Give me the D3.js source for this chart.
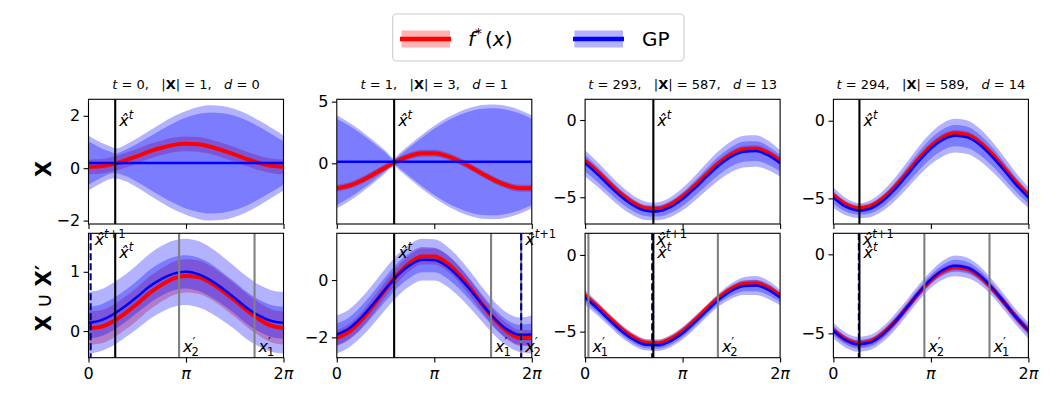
<!DOCTYPE html>
<html>
<head>
<meta charset="utf-8">
<script src="https://cdn.jsdelivr.net/npm/d3@7"></script>
<style>
  body { margin: 0; background: #fff; }
  svg { font-family: "DejaVu Sans", sans-serif; }
</style>
</head>
<body>
<svg id="chart" width="1062" height="397"></svg>
<script>
// x positions of the samples, in multiples of pi
var xGrid = [0, 0.125, 0.25, 0.375, 0.5, 0.625, 0.75, 0.875, 1, 1.125, 1.25, 1.375, 1.5, 1.625, 1.75, 1.875, 2];

// true function f*(x), one row per column of panels
var fTrue = [
  [0.05, 0.07, 0.16, 0.30, 0.46, 0.64, 0.78, 0.89, 0.93, 0.91, 0.82, 0.68, 0.52, 0.35, 0.20, 0.09, 0.05],
  [-2.02, -1.81, -1.41, -0.89, -0.32, 0.20, 0.60, 0.82, 0.82, 0.61, 0.21, -0.31, -0.88, -1.40, -1.80, -2.02, -2.02],
  [-2.64, -3.34, -4.11, -4.83, -5.39, -5.72, -5.75, -5.48, -4.96, -4.26, -3.49, -2.77, -2.21, -1.89, -1.85, -2.12, -2.64],
  [-4.80, -5.38, -5.63, -5.52, -5.05, -4.31, -3.40, -2.46, -1.64, -1.06, -0.81, -0.92, -1.39, -2.14, -3.04, -3.98, -4.80]
];
var fBand = [0.28, 0.28, 0.22, 0.22];

// GP on X (top row)
var gpMeanTop = [
  [0.20, 0.20, 0.20, 0.20, 0.20, 0.20, 0.20, 0.20, 0.20, 0.20, 0.20, 0.20, 0.20, 0.20, 0.20, 0.20, 0.20],
  [0.12, 0.12, 0.12, 0.12, 0.12, 0.12, 0.12, 0.12, 0.12, 0.12, 0.12, 0.12, 0.12, 0.12, 0.12, 0.12, 0.12],
  [-2.80, -3.50, -4.27, -4.99, -5.55, -5.88, -5.91, -5.64, -5.12, -4.42, -3.65, -2.93, -2.37, -2.05, -2.01, -2.28, -2.80],
  [-4.95, -5.53, -5.78, -5.67, -5.20, -4.46, -3.55, -2.61, -1.79, -1.21, -0.96, -1.07, -1.54, -2.29, -3.19, -4.13, -4.95]
];
var gpInnerTop = [
  [0.83, 0.57, 0.39, 0.49, 0.73, 1.00, 1.28, 1.53, 1.74, 1.87, 1.93, 1.90, 1.80, 1.62, 1.38, 1.11, 0.83],
  [3.50, 2.94, 2.27, 1.53, 0.73, 0.40, 1.21, 1.98, 2.68, 3.29, 3.77, 4.12, 4.31, 4.34, 4.21, 3.93, 3.50],
  [0.53, 0.49, 0.46, 0.42, 0.38, 0.34, 0.34, 0.38, 0.44, 0.49, 0.55, 0.60, 0.63, 0.65, 0.64, 0.60, 0.53],
  [0.39, 0.32, 0.27, 0.30, 0.37, 0.44, 0.52, 0.59, 0.64, 0.68, 0.69, 0.68, 0.65, 0.60, 0.54, 0.46, 0.39]
];
var gpOuterTop = [
  [1.05, 0.78, 0.59, 0.69, 0.94, 1.23, 1.52, 1.78, 1.98, 2.14, 2.20, 2.17, 2.06, 1.87, 1.62, 1.34, 1.05],
  [3.77, 3.19, 2.50, 1.73, 0.90, 0.56, 1.40, 2.20, 2.92, 3.55, 4.05, 4.41, 4.61, 4.64, 4.51, 4.21, 3.77],
  [0.85, 0.80, 0.75, 0.70, 0.64, 0.59, 0.58, 0.64, 0.72, 0.80, 0.88, 0.95, 1.00, 1.03, 1.02, 0.95, 0.85],
  [0.66, 0.56, 0.49, 0.54, 0.63, 0.74, 0.85, 0.94, 1.02, 1.07, 1.09, 1.08, 1.04, 0.97, 0.87, 0.77, 0.66]
];
// GP value at the query point x^t (where the top-row band pinches)
var hatMean = [0.18, 0.12, -5.93, -5.79];
var hatInner = [0.37, 0.15, 0.33, 0.27];
var hatOuter = [0.57, 0.30, 0.57, 0.49];

// GP on X u X' (bottom row)
var gpMeanBot = [
  [0.14, 0.18, 0.28, 0.42, 0.58, 0.75, 0.88, 0.97, 1.00, 0.96, 0.86, 0.72, 0.56, 0.39, 0.26, 0.17, 0.14],
  [-1.90, -1.69, -1.31, -0.83, -0.31, 0.17, 0.52, 0.71, 0.70, 0.49, 0.11, -0.37, -0.89, -1.37, -1.73, -1.91, -1.90],
  [-2.78, -3.48, -4.25, -4.97, -5.53, -5.86, -5.89, -5.62, -5.10, -4.40, -3.63, -2.91, -2.35, -2.03, -1.99, -2.26, -2.78],
  [-4.83, -5.43, -5.69, -5.58, -5.10, -4.33, -3.40, -2.43, -1.59, -0.99, -0.73, -0.85, -1.32, -2.10, -3.02, -3.99, -4.83]
];
var gpInnerBot = [
  [0.27, 0.27, 0.27, 0.27, 0.27, 0.28, 0.28, 0.28, 0.28, 0.28, 0.28, 0.27, 0.27, 0.27, 0.27, 0.27, 0.27],
  [0.38, 0.38, 0.40, 0.41, 0.42, 0.43, 0.44, 0.44, 0.43, 0.42, 0.40, 0.37, 0.34, 0.33, 0.33, 0.35, 0.38],
  [0.30, 0.27, 0.25, 0.25, 0.24, 0.22, 0.22, 0.24, 0.25, 0.25, 0.24, 0.25, 0.30, 0.35, 0.37, 0.36, 0.30],
  [0.28, 0.27, 0.26, 0.26, 0.27, 0.28, 0.28, 0.28, 0.29, 0.34, 0.38, 0.37, 0.33, 0.29, 0.28, 0.28, 0.28]
];
var gpOuterBot = [
  [0.52, 0.52, 0.53, 0.53, 0.54, 0.55, 0.56, 0.56, 0.56, 0.56, 0.55, 0.54, 0.53, 0.53, 0.52, 0.52, 0.52],
  [0.66, 0.66, 0.68, 0.70, 0.72, 0.73, 0.73, 0.73, 0.72, 0.70, 0.68, 0.64, 0.60, 0.58, 0.58, 0.60, 0.66],
  [0.50, 0.45, 0.42, 0.42, 0.40, 0.37, 0.37, 0.40, 0.42, 0.42, 0.40, 0.42, 0.50, 0.58, 0.62, 0.60, 0.50],
  [0.50, 0.48, 0.47, 0.47, 0.48, 0.50, 0.50, 0.50, 0.52, 0.60, 0.66, 0.64, 0.58, 0.52, 0.50, 0.50, 0.50]
];

// marker positions (multiples of pi)
var xHatT = [0.274, 0.588, 0.700, 0.267];
var xHatNext = [0.022, 1.891, 0.688, 0.261];
var xPrime1 = [1.703, 1.582, 0.034, 1.601];
var xPrime2 = [0.929, 1.891, 1.362, 0.933];

// titles
var tVals = [0, 1, 293, 294];
var nXVals = [1, 3, 587, 589];
var dVals = [0, 1, 13, 14];

// axis limits and ticks [row][col]
var yLims = [
  [[-2.13, 2.63], [-4.92, 5.19], [-6.73, 1.34], [-6.65, 1.38]],
  [[-0.45, 1.65], [-2.71, 1.63], [-6.70, 1.41], [-6.54, 1.33]]
];
var yTicks = [
  [[-2, 0, 2], [0, 5], [-5, 0], [-5, 0]],
  [[0, 1], [-2, 0], [-5, 0], [-5, 0]]
];
var xTicks = [0, 1, 2];
var xTickLabels = ["0", "π", "2π"];

var PI = Math.PI;
var svg = d3.select('#chart');
var left0 = 88.5, stepX = 248.3, panelW = 195;
var rowBox = [{top: 99.3, bottom: 224}, {top: 233.3, bottom: 357.7}];

function fmt(d){ return d < 0 ? '\u2212' + Math.abs(d) : '' + d; }

function hatLabel(g, x, y, next){
  var t = g.append('text').attr('x', x).attr('y', y).style('font-size', '16px');
  t.append('tspan').style('font-style', 'italic').text('x\u0302');
  t.append('tspan').attr('dy', -7).style('font-size', '11.5px').style('font-style', 'italic').text('t');
  if (next) t.append('tspan').style('font-size', '11.5px').text('+1');
}

function primeLabel(g, x, y, sub){
  var t = g.append('text').attr('x', x).attr('y', y).style('font-size', '16px');
  t.append('tspan').style('font-style', 'italic').text('x');
  t.append('tspan').attr('dy', -6).style('font-size', '13px').text('\u2032');
  t.append('tspan').attr('dx', -4).attr('dy', 10).style('font-size', '11.5px').text(sub);
}

function drawPanel(col, row){
  var x0 = left0 + col * stepX;
  var box = rowBox[row];
  var x = d3.scaleLinear().domain([0, 2 * PI]).range([x0, x0 + panelW]);
  var y = d3.scaleLinear().domain(yLims[row][col]).range([box.bottom, box.top]);
  var g = svg.append('g');
  var clipId = 'clip' + row + col;
  g.append('clipPath').attr('id', clipId).append('rect')
    .attr('x', x0).attr('y', box.top).attr('width', panelW).attr('height', box.bottom - box.top);

  var mean = row == 0 ? gpMeanTop[col] : gpMeanBot[col];
  var inner = row == 0 ? gpInnerTop[col] : gpInnerBot[col];
  var outer = row == 0 ? gpOuterTop[col] : gpOuterBot[col];

  var fPts = xGrid.map(function(v, i){ return {x: v * PI, f: fTrue[col][i]}; });
  var gpPts = xGrid.map(function(v, i){ return {x: v * PI, m: mean[i], s1: inner[i], s2: outer[i]}; });
  if (row == 0) {
    gpPts.push({x: xHatT[col] * PI, m: hatMean[col], s1: hatInner[col], s2: hatOuter[col]});
    gpPts.sort(function(a, b){ return a.x - b.x; });
  }

  var plot = g.append('g').attr('clip-path', 'url(#' + clipId + ')');
  var curve = d3.curveMonotoneX;

  plot.append('path').datum(fPts)
    .attr('d', d3.area().curve(curve).x(function(d){ return x(d.x); })
      .y0(function(d){ return y(d.f - fBand[col]); }).y1(function(d){ return y(d.f + fBand[col]); }))
    .attr('fill', 'red').attr('fill-opacity', 0.3);
  plot.append('path').datum(gpPts)
    .attr('d', d3.area().curve(curve).x(function(d){ return x(d.x); })
      .y0(function(d){ return y(d.m - d.s2); }).y1(function(d){ return y(d.m + d.s2); }))
    .attr('fill', 'blue').attr('fill-opacity', 0.3);
  plot.append('path').datum(gpPts)
    .attr('d', d3.area().curve(curve).x(function(d){ return x(d.x); })
      .y0(function(d){ return y(d.m - d.s1); }).y1(function(d){ return y(d.m + d.s1); }))
    .attr('fill', 'blue').attr('fill-opacity', 0.3);
  plot.append('path').datum(fPts)
    .attr('d', d3.line().curve(curve).x(function(d){ return x(d.x); }).y(function(d){ return y(d.f); }))
    .attr('fill', 'none').attr('stroke', 'red').attr('stroke-width', 4);
  plot.append('path').datum(gpPts)
    .attr('d', d3.line().curve(curve).x(function(d){ return x(d.x); }).y(function(d){ return y(d.m); }))
    .attr('fill', 'none').attr('stroke', 'blue').attr('stroke-width', 2.5);

  function vline(v, color, dash){
    var l = plot.append('line')
      .attr('x1', x(v * PI)).attr('x2', x(v * PI))
      .attr('y1', box.top).attr('y2', box.bottom)
      .attr('stroke', color).attr('stroke-width', 2.1);
    if (dash) l.attr('stroke-dasharray', dash);
  }

  if (row == 1) {
    vline(xPrime1[col], 'grey');
    vline(xPrime2[col], 'grey');
    vline(xHatNext[col], '#00008b', '7,3');
    vline(xHatT[col], 'black');
    hatLabel(g, x(xHatNext[col] * PI) + 4, box.top + 12, true);
    hatLabel(g, x(xHatT[col] * PI) + 4, box.top + 25, false);
    primeLabel(g, x(xPrime1[col] * PI) + 4, box.bottom - 6, '1');
    primeLabel(g, x(xPrime2[col] * PI) + 4, box.bottom - 6, '2');
  } else {
    vline(xHatT[col], 'black');
    hatLabel(g, x(xHatT[col] * PI) + 4, box.top + 27, false);
  }

  g.append('rect').attr('x', x0).attr('y', box.top)
    .attr('width', panelW).attr('height', box.bottom - box.top)
    .attr('fill', 'none').attr('stroke', 'black').attr('stroke-width', 1.1);

  var ya = g.append('g').attr('transform', 'translate(' + x0 + ',0)')
    .call(d3.axisLeft(y).tickValues(yTicks[row][col]).tickSize(4.9).tickPadding(3.5).tickFormat(fmt));
  ya.select('.domain').remove();
  ya.selectAll('text').style('font-size', '16px').style('font-family', '"DejaVu Sans"');
  ya.selectAll('line').attr('stroke-width', 1.1);

  var xa = g.append('g').attr('transform', 'translate(0,' + box.bottom + ')')
    .call(d3.axisBottom(x).tickValues(xTicks.map(function(v){ return v * PI; })).tickSize(4.9).tickPadding(3.5).tickFormat(''));
  xa.select('.domain').remove();
  xa.selectAll('line').attr('stroke-width', 1.1);

  if (row == 1) {
    xTicks.forEach(function(v, i){
      var t = g.append('text').attr('x', x(v * PI)).attr('y', box.bottom + 21)
        .attr('text-anchor', 'middle').style('font-size', '16px');
      var lab = xTickLabels[i];
      if (lab.indexOf('π') >= 0) {
        if (lab.length > 1) t.append('tspan').text(lab.slice(0, -1));
        t.append('tspan').style('font-style', 'italic').text('π');
      } else {
        t.text(lab);
      }
    });
  } else {
    var tt = g.append('text').attr('x', x0 + panelW / 2).attr('y', 89)
      .attr('text-anchor', 'middle').style('font-size', '13px').style('white-space', 'pre');
    tt.append('tspan').style('font-style', 'italic').text('t');
    tt.append('tspan').text(' = ' + tVals[col] + ',   |');
    tt.append('tspan').style('font-weight', 'bold').text('X');
    tt.append('tspan').text('| = ' + nXVals[col] + ',   ');
    tt.append('tspan').style('font-style', 'italic').text('d');
    tt.append('tspan').text(' = ' + dVals[col]);
  }
}

for (var r = 0; r < 2; r++) {
  for (var c = 0; c < 4; c++) drawPanel(c, r);
}

// row labels
svg.append('text').attr('transform', 'translate(44,169) rotate(-90)')
  .attr('text-anchor', 'middle').attr('dominant-baseline', 'central')
  .style('font-size', '21px').style('font-weight', 'bold').text('X');
var rl = svg.append('text').attr('transform', 'translate(44,298) rotate(-90)')
  .attr('text-anchor', 'middle').attr('dominant-baseline', 'central').style('font-size', '21px');
rl.append('tspan').style('font-weight', 'bold').text('X');
rl.append('tspan').text(' \u222A ');
rl.append('tspan').style('font-weight', 'bold').text('X\u2032');

// legend
var leg = svg.append('g');
leg.append('rect').attr('x', 392.7).attr('y', 14).attr('width', 291.3).attr('height', 47).attr('rx', 4)
  .attr('fill', 'white').attr('stroke', '#cccccc').attr('stroke-width', 1.1);
var legItems = [
  {color: 'red', x: 400, tx: 468},
  {color: 'blue', x: 573, tx: 642}
];
legItems.forEach(function(it, i){
  leg.append('rect').attr('x', it.x + 1.5).attr('y', 30.5).attr('width', 48.5).attr('height', 17)
    .attr('fill', it.color).attr('fill-opacity', 0.3);
  leg.append('line').attr('x1', it.x).attr('x2', it.x + 51).attr('y1', 39).attr('y2', 39)
    .attr('stroke', it.color).attr('stroke-width', 4.5);
  var t = leg.append('text').attr('x', it.tx).attr('y', 46).style('font-size', '20px');
  if (i == 0) {
    t.append('tspan').style('font-style', 'italic').text('f');
    t.append('tspan').attr('dy', -8).style('font-size', '14px').text('*');
    t.append('tspan').attr('dy', 8).attr('dx', 3).text('(');
    t.append('tspan').style('font-style', 'italic').text('x');
    t.append('tspan').text(')');
  } else {
    t.text('GP');
  }
});
</script>
</body>
</html>
